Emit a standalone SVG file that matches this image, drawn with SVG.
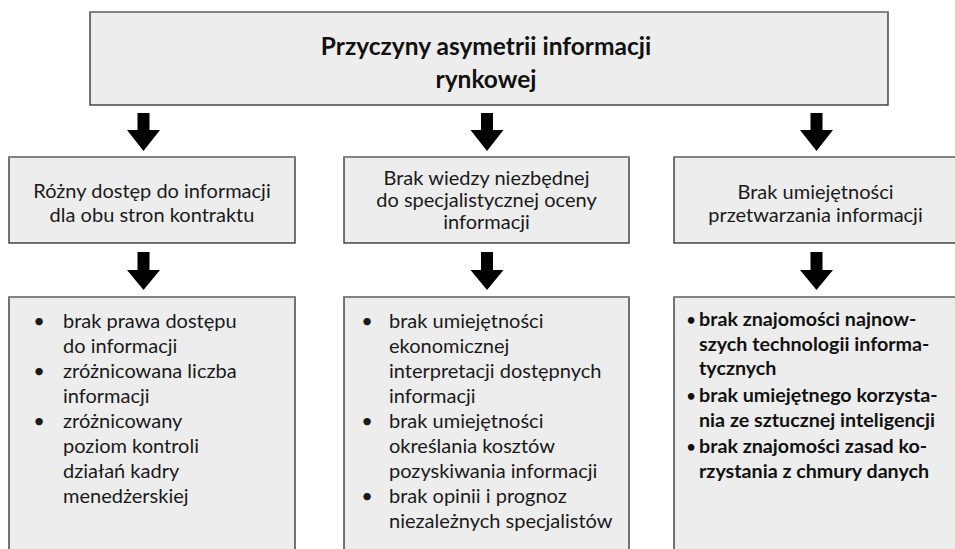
<svg xmlns="http://www.w3.org/2000/svg" width="955" height="549" viewBox="0 0 955 549">
<style>
.box{fill:#ededed;stroke:#3a3a3a;stroke-width:1.4}
.top{stroke:#8a8a8a;stroke-width:1.6}
.t{font-family:Lato,"Liberation Sans",sans-serif;font-size:20px;fill:#1a1a1a}
.c{text-anchor:middle}
.title{font-family:Lato,"Liberation Sans",sans-serif;font-size:24.5px;font-weight:bold;fill:#111;text-anchor:middle}
.b{font-family:Lato,"Liberation Sans",sans-serif;font-size:19.7px;font-weight:bold;fill:#111}
.bd{font-family:Lato,"Liberation Sans",sans-serif;font-size:15px;font-weight:bold;fill:#111;text-anchor:middle}
.arrow{fill:#000}
</style>
<rect width="955" height="549" fill="#fff"/>
<g id="connectors">
<path class="arrow" d="M137.5 113H149.5V130H160L143.5 151L127 130H137.5Z"/>
<path class="arrow" d="M481 113H493V130H503.5L487 151L470.5 130H481Z"/>
<path class="arrow" d="M810.5 113H822.5V130H833L816.5 151L800 130H810.5Z"/>
<path class="arrow" d="M137.5 252H149.5V270H160L143.5 290L127 270H137.5Z"/>
<path class="arrow" d="M481 252H493V270H503.5L487 290L470.5 270H481Z"/>
<path class="arrow" d="M810.5 252H822.5V270H833L816.5 290L800 270H810.5Z"/>
</g>
<g id="root">
<rect class="box" x="90" y="12" width="798" height="93"/>
<line class="top" x1="90" y1="12" x2="888" y2="12"/>
<text class="title" x="486" y="55">Przyczyny asymetrii informacji</text>
<text class="title" x="486" y="88">rynkowej</text>
</g>
<g id="cause1">
<rect class="box" x="9" y="157" width="286" height="86"/>
<line class="top" x1="9" y1="157" x2="295" y2="157"/>
<text class="t c" x="152" y="198">Różny dostęp do informacji</text>
<text class="t c" x="152" y="222">dla obu stron kontraktu</text>
</g>
<g id="cause2">
<rect class="box" x="344" y="157" width="285" height="86"/>
<line class="top" x1="344" y1="157" x2="629" y2="157"/>
<text class="t c" x="486.5" y="185">Brak wiedzy niezbędnej</text>
<text class="t c" x="486.5" y="207">do specjalistycznej oceny</text>
<text class="t c" x="486.5" y="229">informacji</text>
</g>
<g id="cause3">
<rect class="box" x="674" y="157" width="290" height="86"/>
<line class="top" x1="674" y1="157" x2="964" y2="157"/>
<text class="t c" x="815.5" y="199">Brak umiejętności</text>
<text class="t c" x="815.5" y="222">przetwarzania informacji</text>
</g>
<g id="details1">
<rect class="box" x="9" y="297" width="286" height="260"/>
<line class="top" x1="9" y1="297" x2="295" y2="297"/>
<text class="t c" x="39" y="328">•</text>
<text class="t" x="63" y="328">brak prawa dostępu</text>
<text class="t" x="63" y="353">do informacji</text>
<text class="t c" x="39" y="378">•</text>
<text class="t" x="63" y="378">zróżnicowana liczba</text>
<text class="t" x="63" y="403">informacji</text>
<text class="t c" x="39" y="428">•</text>
<text class="t" x="63" y="428">zróżnicowany</text>
<text class="t" x="63" y="453">poziom kontroli</text>
<text class="t" x="63" y="478">działań kadry</text>
<text class="t" x="63" y="503">menedżerskiej</text>
</g>
<g id="details2">
<rect class="box" x="344" y="297" width="285" height="260"/>
<line class="top" x1="344" y1="297" x2="629" y2="297"/>
<text class="t c" x="367" y="328">•</text>
<text class="t" x="389" y="328">brak umiejętności</text>
<text class="t" x="389" y="353">ekonomicznej</text>
<text class="t" x="389" y="378">interpretacji dostępnych</text>
<text class="t" x="389" y="403">informacji</text>
<text class="t c" x="367" y="428">•</text>
<text class="t" x="389" y="428">brak umiejętności</text>
<text class="t" x="389" y="453">określania kosztów</text>
<text class="t" x="389" y="478">pozyskiwania informacji</text>
<text class="t c" x="367" y="503">•</text>
<text class="t" x="389" y="503">brak opinii i prognoz</text>
<text class="t" x="389" y="528">niezależnych specjalistów</text>
</g>
<g id="details3">
<rect class="box" x="674" y="297" width="290" height="260"/>
<line class="top" x1="674" y1="297" x2="964" y2="297"/>
<text class="bd" x="691" y="325">•</text>
<text class="b" x="699" y="326">brak znajomości najnow-</text>
<text class="b" x="699" y="351">szych technologii informa-</text>
<text class="b" x="699" y="375">tycznych</text>
<text class="bd" x="691" y="401">•</text>
<text class="b" x="699" y="402">brak umiejętnego korzysta-</text>
<text class="b" x="699" y="427">nia ze sztucznej inteligencji</text>
<text class="bd" x="691" y="452">•</text>
<text class="b" x="699" y="453">brak znajomości zasad ko-</text>
<text class="b" x="699" y="478">rzystania z chmury danych</text>
</g>
</svg>
